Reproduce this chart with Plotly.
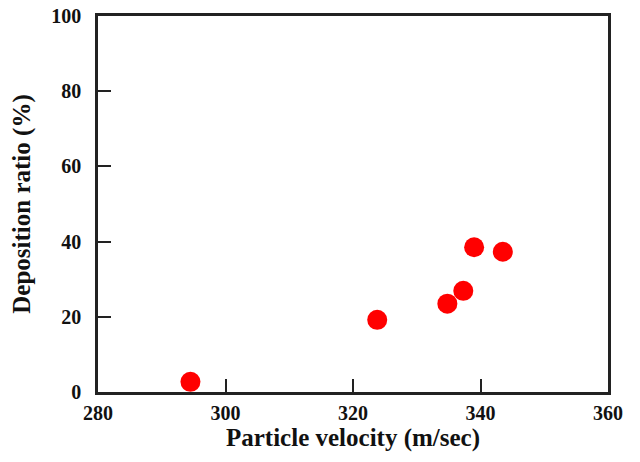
import plotly.graph_objects as go

velocity = [294.5, 323.8, 334.8, 337.3, 339.0, 343.5]
deposition = [2.7, 19.2, 23.5, 26.9, 38.5, 37.3]
x_ticks = [280, 300, 320, 340, 360]
y_ticks = [0, 20, 40, 60, 80, 100]

font = "Liberation Serif"

fig = go.Figure(go.Scatter(
    x=velocity, y=deposition, mode="markers",
    marker=dict(color="#ff0000", size=20, line=dict(width=0)),
))

fig.update_layout(
    width=640, height=462,
    margin=dict(l=98, r=32, t=16, b=70),
    paper_bgcolor="white", plot_bgcolor="white",
    showlegend=False,
    font=dict(family=font, color="#111111"),
)
fig.update_xaxes(
    range=[280, 360], tickvals=x_ticks, ticktext=[f"<b>{v}</b>" for v in x_ticks],
    ticks="inside", ticklen=13, tickwidth=2, tickcolor="#222",
    showline=True, linewidth=2.5, linecolor="#222", mirror=True,
    showgrid=False, zeroline=False, automargin=False,
    tickfont=dict(size=20, family=font),
    ticklabelstandoff=1, ticklabeloverflow="allow",
    title=dict(text="<b>Particle velocity (m/sec)</b>", font=dict(size=25, family=font), standoff=4),
)
fig.update_yaxes(
    range=[0, 100], tickvals=y_ticks, ticktext=[f"<b>{v}</b>" for v in y_ticks],
    ticks="inside", ticklen=13, tickwidth=2, tickcolor="#222",
    showline=True, linewidth=2.5, linecolor="#222", mirror=True,
    showgrid=False, zeroline=False, automargin=False,
    tickfont=dict(size=20, family=font),
    ticklabelstandoff=10, ticklabeloverflow="allow",
    title=dict(text="<b>Deposition ratio (%)</b>", font=dict(size=25, family=font), standoff=14),
)

# remove the browser's default 8px body margin so the figure fills the window
fig.write_html("out.html", config={"displayModeBar": False},
               post_script="document.body.style.margin='0';")
